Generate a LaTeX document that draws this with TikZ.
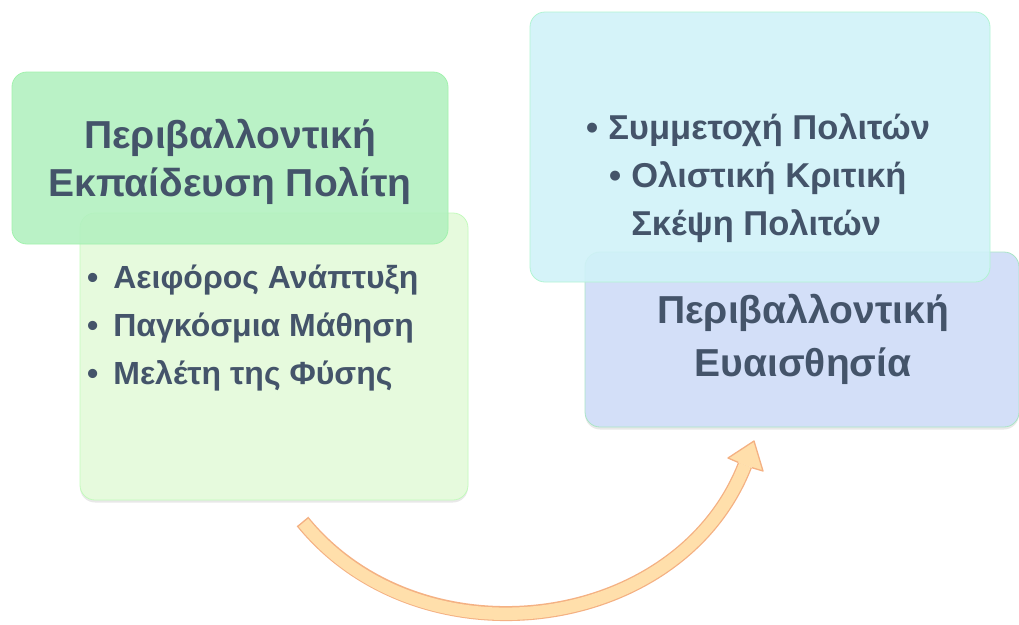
\documentclass[tikz,border=0pt]{standalone}
\usepackage{fontspec}
\setmainfont{Liberation Sans}
\usetikzlibrary{positioning,shadows}

\definecolor{txtgray}{HTML}{44546A}
\definecolor{greenhead}{HTML}{B3F1C0}
\definecolor{greenbody}{HTML}{E6FADD}
\definecolor{cyanbody}{HTML}{D0F2F8}
\definecolor{bluehead}{HTML}{D3DFF8}
\definecolor{arroworange}{HTML}{F4B183}
\definecolor{arrowfill}{HTML}{FFDFAB}

\begin{document}
\begin{tikzpicture}[
		x=1pt, y=-1pt,
		box/.style={
			rounded corners=15pt,
			inner sep=0pt,
			line width=0.8pt
		},
		shade/.style={
			drop shadow={shadow xshift=0pt, shadow yshift=-2.5pt, opacity=0.18}
		},
		title/.style={
			inner sep=0pt,
			align=center,
			text=txtgray,
			font=\fontsize{39}{48}\selectfont\bfseries
		},
		items/.style={
			inner sep=0pt,
			anchor=west,
			align=left,
			text=txtgray,
			font=\fontsize{32}{48}\selectfont\bfseries
		}
		]
		
		\useasboundingbox (0,0) rectangle (1019,624);
		
		%--------------------------------------------------
		% Boxes
		%--------------------------------------------------
		
		\node (edubody) [box, shade, fill=greenbody, draw=greenbody!85!green,
		minimum width=388pt, minimum height=287pt] at (274,356.5) {};
		
		\node (eduhead) [box, fill=greenhead, draw=greenhead!90!green,
		fill opacity=0.9, minimum width=436pt, minimum height=172pt] at (230,158) {};
		
		\node (sensehead) [box, shade, fill=bluehead, draw=bluehead!80!green,
		minimum width=434pt, minimum height=175pt] at (802,339.5) {};
		
		\node (sensebody) [box, fill=cyanbody, draw=cyanbody!85!green,
		fill opacity=0.9, minimum width=460pt, minimum height=270pt] at (760,147) {};
		
		%--------------------------------------------------
		% Texts
		%--------------------------------------------------
		
		\node (edutitle) [title] at (230,162)
		{Περιβαλλοντική\\Εκπαίδευση Πολίτη};
		
		\node (eduitems) [items] at (87,328)
		{•\hspace{15pt}Αειφόρος Ανάπτυξη\\
		 •\hspace{15pt}Παγκόσμια Μάθηση\\
		 •\hspace{15pt}Μελέτη της Φύσης};
		
		\node (sensetitle) [title, font=\fontsize{39}{53}\selectfont\bfseries]
		at (803,339) {Περιβαλλοντική\\Ευαισθησία};
		
		\node (senseitems) [items, font=\fontsize{34.5}{48}\selectfont\bfseries] at (586,178)
		{•\hspace{10pt}Συμμετοχή Πολιτών\\
		 \hspace*{23pt}•\hspace{10pt}Ολιστική Κριτική\\
		 \hspace*{23pt}\phantom{•}\hspace{10pt}Σκέψη Πολιτών};
		
		%--------------------------------------------------
		% Arrow
		%--------------------------------------------------
		
		\coordinate (tail) at (302.5,521.5);
		\coordinate (neck) at (745,465);
		
		\draw[arroworange, line width=15pt]
		(tail) .. controls (421,667) and (679,634) .. (neck);
		\draw[arrowfill, line width=12.4pt, shorten <=1.5pt]
		(tail) .. controls (421,667) and (679,634) .. (neck);
		
		\fill[arrowfill] (738,462.3) -- (728,458) -- (754,441)
		-- (763,471) -- (752,467.7) -- cycle;
		\draw[arroworange, line width=1.3pt, line join=round]
		(738,462.3) -- (728,458) -- (754,441) -- (763,471) -- (752,467.7);
		
	\end{tikzpicture}
\end{document}
